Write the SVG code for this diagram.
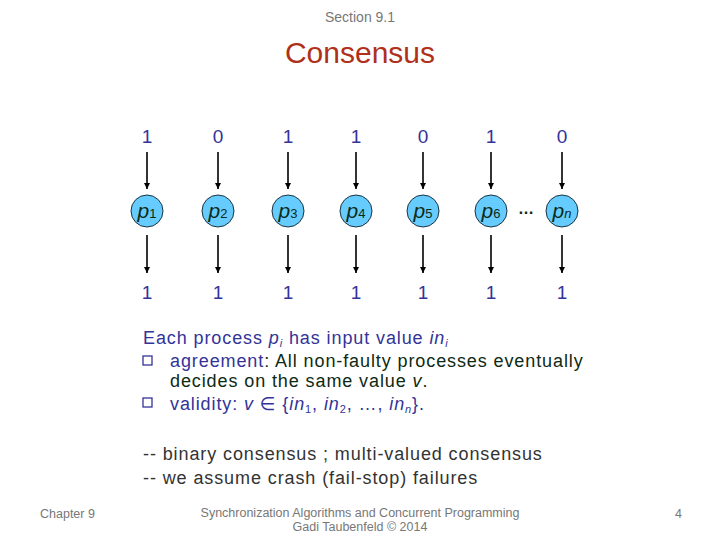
<svg xmlns="http://www.w3.org/2000/svg" width="720" height="540" viewBox="0 0 720 540">
<defs>
<marker id="ah" viewBox="0 0 10 10" refX="10" refY="5" markerWidth="6" markerHeight="6" markerUnits="userSpaceOnUse" orient="auto"><path d="M0,0 L10,5 L0,10 z" fill="#000"/></marker>
<style>
text{font-family:"Liberation Sans","DejaVu Sans",sans-serif}
.val{font-size:19px;fill:#333399;text-anchor:middle}
.node circle{fill:#66CCFF;stroke:#1a3340;stroke-width:1}
.node text{font-size:21px;fill:#0d2a14;text-anchor:middle}
.sub{font-size:13px;font-style:normal}
.it{font-style:italic}
.arr{stroke:#000;stroke-width:1.6;marker-end:url(#ah)}
.body{font-size:18px;letter-spacing:0.9px}
.blue{fill:#333399}
.dark{fill:#0d2a14}
.gray{fill:#333}
.foot{font-size:12.5px;fill:#777}
</style>
</defs>
<rect width="720" height="540" fill="#fff"/>
<text x="360" y="22" text-anchor="middle" style="font-size:14px;fill:#777">Section 9.1</text>
<text x="360" y="63" text-anchor="middle" style="font-size:30px;fill:#B0301A">Consensus</text>

<g id="inputs">
<text class="val" x="147" y="143">1</text>
<text class="val" x="218" y="143">0</text>
<text class="val" x="288" y="143">1</text>
<text class="val" x="356" y="143">1</text>
<text class="val" x="423" y="143">0</text>
<text class="val" x="491" y="143">1</text>
<text class="val" x="562" y="143">0</text>
</g>
<g id="outputs">
<text class="val" x="147" y="299">1</text>
<text class="val" x="218" y="299">1</text>
<text class="val" x="288" y="299">1</text>
<text class="val" x="356" y="299">1</text>
<text class="val" x="423" y="299">1</text>
<text class="val" x="491" y="299">1</text>
<text class="val" x="562" y="299">1</text>
</g>

<g id="connectors">
<line class="arr" x1="147" y1="152" x2="147" y2="189"/>
<line class="arr" x1="218" y1="152" x2="218" y2="189"/>
<line class="arr" x1="288" y1="152" x2="288" y2="189"/>
<line class="arr" x1="356" y1="152" x2="356" y2="189"/>
<line class="arr" x1="423" y1="152" x2="423" y2="189"/>
<line class="arr" x1="491" y1="152" x2="491" y2="189"/>
<line class="arr" x1="562" y1="152" x2="562" y2="189"/>
<line class="arr" x1="147" y1="235" x2="147" y2="273"/>
<line class="arr" x1="218" y1="235" x2="218" y2="273"/>
<line class="arr" x1="288" y1="235" x2="288" y2="273"/>
<line class="arr" x1="356" y1="235" x2="356" y2="273"/>
<line class="arr" x1="423" y1="235" x2="423" y2="273"/>
<line class="arr" x1="491" y1="235" x2="491" y2="273"/>
<line class="arr" x1="562" y1="235" x2="562" y2="273"/>
</g>

<g id="p1" class="node"><circle cx="147" cy="211" r="16"/><text x="147" y="218"><tspan class="it">p</tspan><tspan class="sub">1</tspan></text></g>
<g id="p2" class="node"><circle cx="218" cy="211" r="16"/><text x="218" y="218"><tspan class="it">p</tspan><tspan class="sub">2</tspan></text></g>
<g id="p3" class="node"><circle cx="288" cy="211" r="16"/><text x="288" y="218"><tspan class="it">p</tspan><tspan class="sub">3</tspan></text></g>
<g id="p4" class="node"><circle cx="356" cy="211" r="16"/><text x="356" y="218"><tspan class="it">p</tspan><tspan class="sub">4</tspan></text></g>
<g id="p5" class="node"><circle cx="423" cy="211" r="16"/><text x="423" y="218"><tspan class="it">p</tspan><tspan class="sub">5</tspan></text></g>
<g id="p6" class="node"><circle cx="491" cy="211" r="16"/><text x="491" y="218"><tspan class="it">p</tspan><tspan class="sub">6</tspan></text></g>
<g id="dots"><text x="526" y="214" text-anchor="middle" style="font-size:16px;font-weight:bold;fill:#0d2a14">…</text></g>
<g id="pn" class="node"><circle cx="562" cy="211" r="16"/><text x="562" y="218"><tspan class="it">p</tspan><tspan class="sub it">n</tspan></text></g>

<g id="text">
<text class="body blue" x="143" y="344">Each process <tspan class="it">p</tspan><tspan class="it" style="font-size:11px" dy="3">i</tspan><tspan dy="-3"> has input value </tspan><tspan class="it">in</tspan><tspan class="it" style="font-size:11px" dy="3">i</tspan></text>
<rect x="143" y="356" width="9" height="9" fill="none" stroke="#333399" stroke-width="1.3"/>
<text class="body dark" x="170" y="367"><tspan class="blue">agreement</tspan>: All non-faulty processes eventually</text>
<text class="body dark" x="170" y="387">decides on the same value <tspan class="it">v</tspan>.</text>
<rect x="143" y="398" width="9" height="9" fill="none" stroke="#333399" stroke-width="1.3"/>
<text class="body blue" x="170" y="410">validity: <tspan class="it">v</tspan> ∈ {<tspan class="it">in</tspan><tspan style="font-size:11px" dy="3">1</tspan><tspan dy="-3">, </tspan><tspan class="it">in</tspan><tspan style="font-size:11px" dy="3">2</tspan><tspan dy="-3">, …, </tspan><tspan class="it">in</tspan><tspan class="it" style="font-size:11px" dy="3">n</tspan><tspan dy="-3">}.</tspan></text>
<text class="body gray" x="143" y="460">-- binary consensus ; multi-valued consensus</text>
<text class="body gray" x="143" y="484">-- we assume crash (fail-stop) failures</text>
</g>

<g id="footer">
<text class="foot" x="40" y="518">Chapter 9</text>
<text class="foot" x="360" y="517" text-anchor="middle">Synchronization Algorithms and Concurrent Programming</text>
<text class="foot" x="360" y="531" text-anchor="middle">Gadi Taubenfeld © 2014</text>
<text class="foot" x="675" y="518">4</text>
</g>
</svg>
